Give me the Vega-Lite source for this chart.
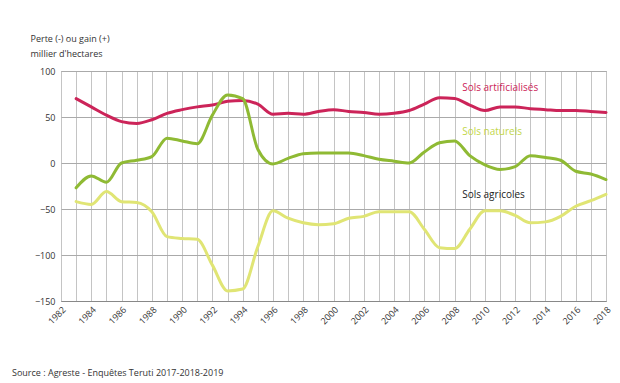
{
  "$schema": "https://vega.github.io/schema/vega-lite/v6.json",
  "autosize": {"type": "none"},
  "width": 545,
  "height": 230,
  "padding": {"left": 61, "top": 71, "right": 14, "bottom": 82},
  "background": "white",
  "config": {
    "font": "Open Sans",
    "view": {"stroke": "#9a9a9a", "strokeWidth": 1},
    "axis": {"grid": true, "gridColor": "#bbbbbb", "gridWidth": 1, "gridOpacity": 1}
  },
  "title": {
    "text": "Source : Agreste - Enquêtes Teruti 2017-2018-2019",
    "orient": "bottom",
    "anchor": "start",
    "frame": "bounds",
    "fontSize": 9,
    "fontWeight": "normal",
    "color": "#333333",
    "offset": 43,
    "dx": -18
  },
  "datasets": {
    "series": [
      {"year": 1983, "serie": "Sols artificialisés", "value": 70},
      {"year": 1984, "serie": "Sols artificialisés", "value": 61},
      {"year": 1985, "serie": "Sols artificialisés", "value": 52},
      {"year": 1986, "serie": "Sols artificialisés", "value": 45},
      {"year": 1987, "serie": "Sols artificialisés", "value": 43},
      {"year": 1988, "serie": "Sols artificialisés", "value": 47},
      {"year": 1989, "serie": "Sols artificialisés", "value": 54},
      {"year": 1990, "serie": "Sols artificialisés", "value": 58},
      {"year": 1991, "serie": "Sols artificialisés", "value": 61},
      {"year": 1992, "serie": "Sols artificialisés", "value": 63},
      {"year": 1993, "serie": "Sols artificialisés", "value": 67},
      {"year": 1994, "serie": "Sols artificialisés", "value": 68},
      {"year": 1995, "serie": "Sols artificialisés", "value": 64},
      {"year": 1996, "serie": "Sols artificialisés", "value": 53},
      {"year": 1997, "serie": "Sols artificialisés", "value": 54},
      {"year": 1998, "serie": "Sols artificialisés", "value": 53},
      {"year": 1999, "serie": "Sols artificialisés", "value": 56},
      {"year": 2000, "serie": "Sols artificialisés", "value": 58},
      {"year": 2001, "serie": "Sols artificialisés", "value": 56},
      {"year": 2002, "serie": "Sols artificialisés", "value": 55},
      {"year": 2003, "serie": "Sols artificialisés", "value": 53},
      {"year": 2004, "serie": "Sols artificialisés", "value": 54},
      {"year": 2005, "serie": "Sols artificialisés", "value": 57},
      {"year": 2006, "serie": "Sols artificialisés", "value": 64},
      {"year": 2007, "serie": "Sols artificialisés", "value": 71},
      {"year": 2008, "serie": "Sols artificialisés", "value": 70},
      {"year": 2009, "serie": "Sols artificialisés", "value": 63},
      {"year": 2010, "serie": "Sols artificialisés", "value": 57},
      {"year": 2011, "serie": "Sols artificialisés", "value": 61},
      {"year": 2012, "serie": "Sols artificialisés", "value": 61},
      {"year": 2013, "serie": "Sols artificialisés", "value": 59},
      {"year": 2014, "serie": "Sols artificialisés", "value": 58},
      {"year": 2015, "serie": "Sols artificialisés", "value": 57},
      {"year": 2016, "serie": "Sols artificialisés", "value": 57},
      {"year": 2017, "serie": "Sols artificialisés", "value": 56},
      {"year": 2018, "serie": "Sols artificialisés", "value": 55},
      {"year": 1983, "serie": "Sols naturels", "value": -27},
      {"year": 1984, "serie": "Sols naturels", "value": -14},
      {"year": 1985, "serie": "Sols naturels", "value": -21},
      {"year": 1986, "serie": "Sols naturels", "value": 0},
      {"year": 1987, "serie": "Sols naturels", "value": 3},
      {"year": 1988, "serie": "Sols naturels", "value": 7},
      {"year": 1989, "serie": "Sols naturels", "value": 27},
      {"year": 1990, "serie": "Sols naturels", "value": 24},
      {"year": 1991, "serie": "Sols naturels", "value": 21},
      {"year": 1992, "serie": "Sols naturels", "value": 52},
      {"year": 1993, "serie": "Sols naturels", "value": 74},
      {"year": 1994, "serie": "Sols naturels", "value": 70},
      {"year": 1995, "serie": "Sols naturels", "value": 15},
      {"year": 1996, "serie": "Sols naturels", "value": -1},
      {"year": 1997, "serie": "Sols naturels", "value": 5},
      {"year": 1998, "serie": "Sols naturels", "value": 10},
      {"year": 1999, "serie": "Sols naturels", "value": 11},
      {"year": 2000, "serie": "Sols naturels", "value": 11},
      {"year": 2001, "serie": "Sols naturels", "value": 11},
      {"year": 2002, "serie": "Sols naturels", "value": 8},
      {"year": 2003, "serie": "Sols naturels", "value": 4},
      {"year": 2004, "serie": "Sols naturels", "value": 2},
      {"year": 2005, "serie": "Sols naturels", "value": 0},
      {"year": 2006, "serie": "Sols naturels", "value": 12},
      {"year": 2007, "serie": "Sols naturels", "value": 22},
      {"year": 2008, "serie": "Sols naturels", "value": 24},
      {"year": 2009, "serie": "Sols naturels", "value": 8},
      {"year": 2010, "serie": "Sols naturels", "value": -2},
      {"year": 2011, "serie": "Sols naturels", "value": -7},
      {"year": 2012, "serie": "Sols naturels", "value": -4},
      {"year": 2013, "serie": "Sols naturels", "value": 8},
      {"year": 2014, "serie": "Sols naturels", "value": 6},
      {"year": 2015, "serie": "Sols naturels", "value": 3},
      {"year": 2016, "serie": "Sols naturels", "value": -9},
      {"year": 2017, "serie": "Sols naturels", "value": -12},
      {"year": 2018, "serie": "Sols naturels", "value": -18},
      {"year": 1983, "serie": "Sols agricoles", "value": -42},
      {"year": 1984, "serie": "Sols agricoles", "value": -45},
      {"year": 1985, "serie": "Sols agricoles", "value": -31},
      {"year": 1986, "serie": "Sols agricoles", "value": -42},
      {"year": 1987, "serie": "Sols agricoles", "value": -43},
      {"year": 1988, "serie": "Sols agricoles", "value": -53},
      {"year": 1989, "serie": "Sols agricoles", "value": -80},
      {"year": 1990, "serie": "Sols agricoles", "value": -82},
      {"year": 1991, "serie": "Sols agricoles", "value": -83},
      {"year": 1992, "serie": "Sols agricoles", "value": -111},
      {"year": 1993, "serie": "Sols agricoles", "value": -139},
      {"year": 1994, "serie": "Sols agricoles", "value": -137},
      {"year": 1995, "serie": "Sols agricoles", "value": -91},
      {"year": 1996, "serie": "Sols agricoles", "value": -52},
      {"year": 1997, "serie": "Sols agricoles", "value": -60},
      {"year": 1998, "serie": "Sols agricoles", "value": -65},
      {"year": 1999, "serie": "Sols agricoles", "value": -67},
      {"year": 2000, "serie": "Sols agricoles", "value": -66},
      {"year": 2001, "serie": "Sols agricoles", "value": -60},
      {"year": 2002, "serie": "Sols agricoles", "value": -58},
      {"year": 2003, "serie": "Sols agricoles", "value": -53},
      {"year": 2004, "serie": "Sols agricoles", "value": -53},
      {"year": 2005, "serie": "Sols agricoles", "value": -53},
      {"year": 2006, "serie": "Sols agricoles", "value": -72},
      {"year": 2007, "serie": "Sols agricoles", "value": -92},
      {"year": 2008, "serie": "Sols agricoles", "value": -93},
      {"year": 2009, "serie": "Sols agricoles", "value": -72},
      {"year": 2010, "serie": "Sols agricoles", "value": -52},
      {"year": 2011, "serie": "Sols agricoles", "value": -52},
      {"year": 2012, "serie": "Sols agricoles", "value": -57},
      {"year": 2013, "serie": "Sols agricoles", "value": -65},
      {"year": 2014, "serie": "Sols agricoles", "value": -64},
      {"year": 2015, "serie": "Sols agricoles", "value": -58},
      {"year": 2016, "serie": "Sols agricoles", "value": -47},
      {"year": 2017, "serie": "Sols agricoles", "value": -41},
      {"year": 2018, "serie": "Sols agricoles", "value": -34}
    ],
    "labels": [
      {"year": 2008.5, "value": 82, "serie": "Sols artificialisés"},
      {"year": 2008.5, "value": 34, "serie": "Sols naturels"},
      {"year": 2008.5, "value": -35, "serie": "Sols agricoles"}
    ]
  },
  "encoding": {
    "x": {
      "field": "year", "type": "quantitative",
      "scale": {"domain": [1982, 2018], "nice": false, "zero": false},
      "axis": {
        "title": null,
        "values": [1982,1983,1984,1985,1986,1987,1988,1989,1990,1991,1992,1993,1994,1995,1996,1997,1998,1999,2000,2001,2002,2003,2004,2005,2006,2007,2008,2009,2010,2011,2012,2013,2014,2015,2016,2017,2018],
        "format": "d",
        "labelExpr": "datum.value % 2 == 0 ? datum.label : ''",
        "labelAngle": -45,
        "labelFontSize": 9,
        "labelColor": "#333333",
        "labelPadding": 4,
        "labelOverlap": false,
        "labelFlush": false,
        "labelBound": false,
        "ticks": false,
        "grid": true,
        "gridColor": "#c4c4c4",
        "domainColor": "#888888",
        "domainWidth": 1
      }
    },
    "y": {
      "field": "value", "type": "quantitative",
      "scale": {"domain": [-150, 100], "nice": false},
      "axis": {
        "title": ["Perte (-) ou gain (+)", "millier d'hectares"],
        "titleAngle": 0,
        "titleAlign": "left",
        "titleBaseline": "top",
        "titleX": -31,
        "titleY": -37,
        "titleFontSize": 9,
        "titleFontWeight": "normal",
        "titleColor": "#333333",
        "titleLineHeight": 15,
        "values": [-150, -100, -50, 0, 50, 100],
        "labelFontSize": 9,
        "labelColor": "#333333",
        "labelPadding": 6,
        "ticks": false,
        "domain": false,
        "grid": true,
        "gridColor": "#aaaaaa"
      }
    }
  },
  "layer": [
    {
      "data": {"name": "series"},
      "mark": {"type": "line", "strokeWidth": 3, "interpolate": "monotone", "strokeCap": "round", "strokeJoin": "round"},
      "encoding": {
        "color": {
          "field": "serie", "type": "nominal",
          "scale": {"domain": ["Sols artificialisés", "Sols naturels", "Sols agricoles"], "range": ["#cc2459", "#8fba34", "#e0e574"]},
          "legend": null
        }
      }
    },
    {
      "data": {"name": "labels"},
      "mark": {"type": "text", "align": "left", "baseline": "middle", "fontSize": 10},
      "encoding": {
        "text": {"field": "serie"},
        "color": {
          "field": "serie", "type": "nominal",
          "scale": {"domain": ["Sols artificialisés", "Sols naturels", "Sols agricoles"], "range": ["#cc2459", "#c2d64a", "#222222"]},
          "legend": null
        }
      }
    }
  ],
  "resolve": {"scale": {"color": "independent"}}
}
